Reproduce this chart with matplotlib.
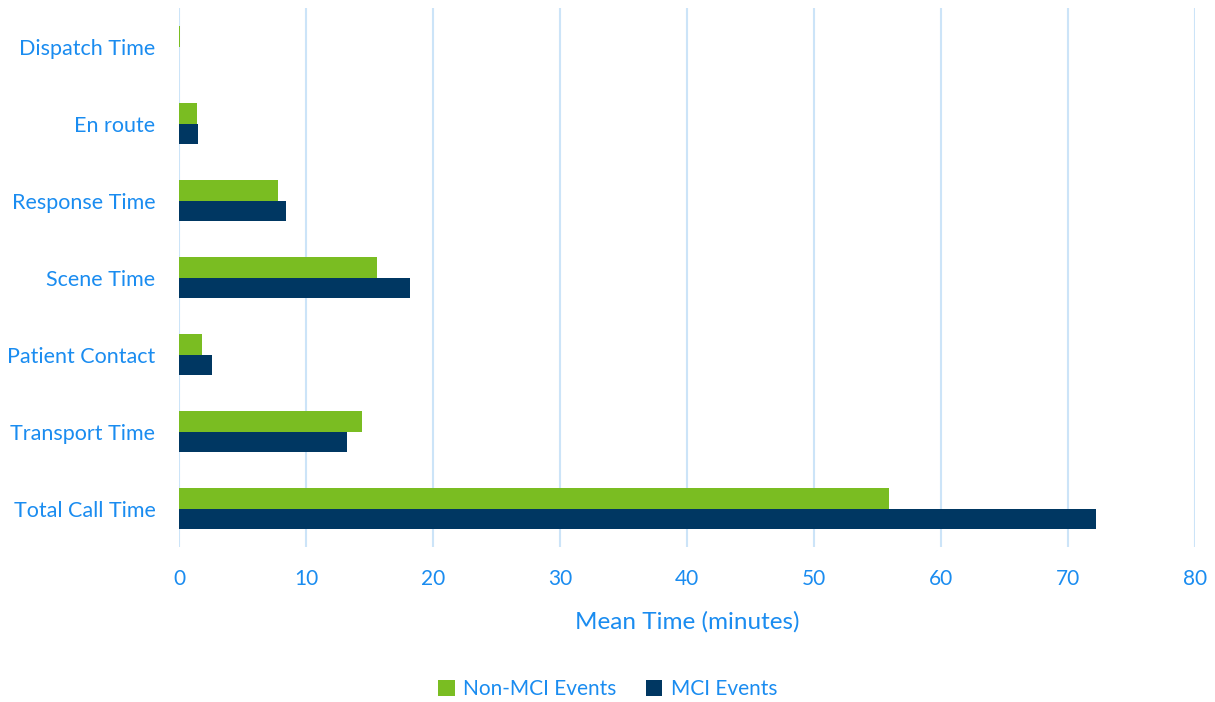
import matplotlib
matplotlib.use("Agg")
import matplotlib.pyplot as plt
import numpy as np

categories = ["Dispatch Time", "En route", "Response Time", "Scene Time",
              "Patient Contact", "Transport Time", "Total Call Time"]
non_mci = [0.08, 1.4, 7.8, 15.6, 1.8, 14.4, 55.9]
mci = [0.0, 1.5, 8.4, 18.2, 2.6, 13.2, 72.2]
series_names = ["Non-MCI Events", "MCI Events"]
x_ticks = [0, 10, 20, 30, 40, 50, 60, 70, 80]

green = "#7ABD22"
navy = "#003762"
text_blue = "#1A8CF0"
grid_blue = "#CCE4F8"

plt.rcParams["font.family"] = ["Lato", "DejaVu Sans"]

fig = plt.figure(figsize=(12.15, 7.02), dpi=100)
ax = fig.add_axes([179 / 1215, 1 - 547 / 702, (1195 - 179) / 1215, 539 / 702])

y = np.arange(len(categories))
h = 0.26
ax.barh(y - h / 2, non_mci, height=h, color=green, label=series_names[0], zorder=3)
ax.barh(y + h / 2, mci, height=h, color=navy, label=series_names[1], zorder=3)

ax.set_ylim(len(categories) - 0.5, -0.5)
ax.set_xlim(0, 80)
ax.set_xticks(x_ticks)
ax.set_yticks(y)
ax.set_yticklabels(categories)
ax.tick_params(axis="both", length=0, colors=text_blue)
ax.tick_params(axis="x", labelsize=15, pad=16)
ax.tick_params(axis="y", labelsize=15.5, pad=17)
ax.grid(axis="x", color=grid_blue, linewidth=1.5, zorder=0)
for s in ax.spines.values():
    s.set_visible(False)

ax.set_xlabel("Mean Time (minutes)", fontsize=17.5, color=text_blue, labelpad=16)

leg = fig.legend(loc="center", bbox_to_anchor=(0.5, 1 - 689 / 702), ncol=2,
                 frameon=False, fontsize=15, handlelength=0.8, handleheight=0.8,
                 columnspacing=1.4, handletextpad=0.4)
for t in leg.get_texts():
    t.set_color(text_blue)

fig.savefig("out.png", dpi=100)
